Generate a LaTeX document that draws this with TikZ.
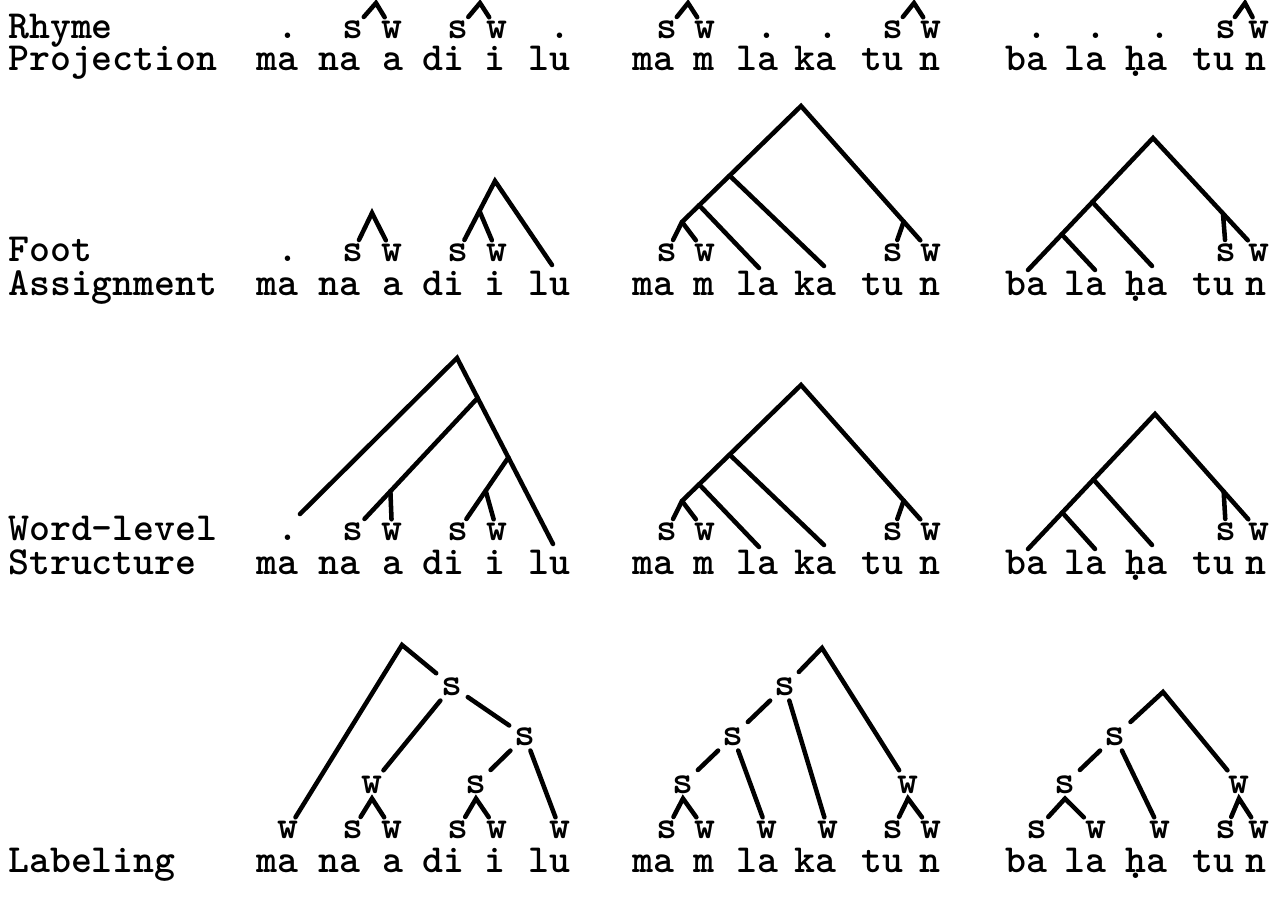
\documentclass[tikz,border=0pt]{standalone}
\usepackage{fontspec}
\newfontfamily\typewr{lmmonolt10-bold.otf}
\newcommand\hdot{\ooalign{h\cr\hidewidth\raisebox{-0.16em}{.}\hidewidth\cr}}
\usetikzlibrary{calc}

\begin{document}
\begin{tikzpicture}[
  x=0.75pt, y=-0.75pt,
  line width=3.4pt, line cap=round,
  every node/.style={font=\typewr\fontsize{29.9}{34}\selectfont, inner sep=0pt},
  lbl/.style={anchor=base west},
  syl/.style={anchor=base},
  lf/.style={anchor=base, outer sep=2.5pt},
  mid/.style={anchor=base, outer sep=4pt}]
\useasboundingbox (0,0) rectangle (1279,897);

% row labels
\node[lbl] (rhyme) at (6,38) {Rhyme};
\node[lbl] (proj) at (6,70) {Projection};
\node[lbl] (foot) at (6,261) {Foot};
\node[lbl] (assign) at (6,295) {Assignment};
\node[lbl] (wordlev) at (6,540) {Word-level};
\node[lbl] (struct) at (6,574) {Structure};
\node[lbl] (labeling) at (6,872) {Labeling};

% Rhyme Projection
\node[syl] (rp-ma) at (277,70) {ma};
\node[syl] (rp-na) at (339,70) {na};
\node[syl] (rp-a) at (393,70) {a};
\node[syl] (rp-di) at (443,70) {di};
\node[syl] (rp-i) at (495,70) {i};
\node[syl] (rp-lu) at (549,70) {lu};
\node[syl] (rp-ma2) at (653,70) {ma};
\node[syl] (rp-m) at (704,70) {m};
\node[syl] (rp-la) at (757,70) {la};
\node[syl] (rp-ka) at (815,70) {ka};
\node[syl] (rp-tu) at (882,70) {tu};
\node[syl] (rp-n) at (930,70) {n};
\node[syl] (rp-ba) at (1026,70) {ba};
\node[syl] (rp-la2) at (1085,70) {la};
\node[syl] (rp-ha) at (1146,70) {\hdot a};
\node[syl] (rp-tu2) at (1213,70) {tu};
\node[syl] (rp-n2) at (1256,70) {n};
\node[lf] (rp1) at (288,38) {.};
\node[lf] (rp2) at (353,38) {s};
\node[lf] (rp3) at (392,38) {w};
\node[lf] (rp4) at (458,38) {s};
\node[lf] (rp5) at (497,38) {w};
\node[lf] (rp6) at (560,38) {.};
\node[lf] (rp7) at (667,38) {s};
\node[lf] (rp8) at (705,38) {w};
\node[lf] (rp9) at (767,38) {.};
\node[lf] (rp10) at (828,38) {.};
\node[lf] (rp11) at (893,38) {s};
\node[lf] (rp12) at (931,38) {w};
\node[lf] (rp13) at (1037,38) {.};
\node[lf] (rp14) at (1096,38) {.};
\node[lf] (rp15) at (1160,38) {.};
\node[lf] (rp16) at (1226,38) {s};
\node[lf] (rp17) at (1259,38) {w};
\coordinate (rp-f1) at (376,3);
\coordinate (rp-f2) at (480,3);
\coordinate (rp-f3) at (688,3);
\coordinate (rp-f4) at (914,3);
\coordinate (rp-f5) at (1245,3);
\draw (rp2) -- (rp-f1) -- (rp3);
\draw (rp4) -- (rp-f2) -- (rp5);
\draw (rp7) -- (rp-f3) -- (rp8);
\draw (rp11) -- (rp-f4) -- (rp12);
\draw (rp16) -- (rp-f5) -- (rp17);

% Foot Assignment
\node[syl] (fa-ma) at (277,295) {ma};
\node[syl] (fa-na) at (339,295) {na};
\node[syl] (fa-a) at (393,295) {a};
\node[syl] (fa-di) at (443,295) {di};
\node[syl] (fa-i) at (495,295) {i};
\node[syl] (fa-lu) at (549,295) {lu};
\node[syl] (fa-ma2) at (653,295) {ma};
\node[syl] (fa-m) at (704,295) {m};
\node[syl] (fa-la) at (757,295) {la};
\node[syl] (fa-ka) at (815,295) {ka};
\node[syl] (fa-tu) at (882,295) {tu};
\node[syl] (fa-n) at (930,295) {n};
\node[syl] (fa-ba) at (1026,295) {ba};
\node[syl] (fa-la2) at (1085,295) {la};
\node[syl] (fa-ha) at (1146,295) {\hdot a};
\node[syl] (fa-tu2) at (1213,295) {tu};
\node[syl] (fa-n2) at (1256,295) {n};
\node[lf] (fa1) at (288,261) {.};
\node[lf] (fa2) at (353,261) {s};
\node[lf] (fa3) at (392,261) {w};
\node[lf] (fa4) at (458,261) {s};
\node[lf] (fa5) at (497,261) {w};
\node[lf] (fa7) at (667,261) {s};
\node[lf] (fa8) at (705,261) {w};
\node[lf] (fa11) at (893,261) {s};
\node[lf] (fa12) at (931,261) {w};
\node[lf] (fa16) at (1226,261) {s};
\node[lf] (fa17) at (1259,261) {w};
\coordinate (fa-f1) at (372,213);
\draw (fa2) -- (fa-f1) -- (fa3);
\coordinate (fa-t1) at (495,181);
\coordinate (fa-e6) at (552,265);
\draw (fa4) -- (fa-t1) -- (fa-e6);
\coordinate (fa-b1) at ($(fa-t1)!0.42!(fa4)$);
\draw (fa-b1) -- (fa5);
\coordinate (fa-t2) at (801,106);
\coordinate (fa-b4) at (682,222);
\coordinate (fa-e10) at (824,266);
\coordinate (fa-e9) at (759,268);
\draw (fa7) -- (fa-b4) -- (fa-t2) -- (fa12);
\draw (fa-b4) -- (fa8);
\coordinate (fa-b2) at ($(fa-t2)!0.6!(fa-b4)$);
\coordinate (fa-b3) at ($(fa-t2)!0.856!(fa-b4)$);
\coordinate (fa-b5) at ($(fa-t2)!0.79!(fa12)$);
\draw (fa-b2) -- (fa-e10);
\draw (fa-b3) -- (fa-e9);
\draw (fa-b5) -- (fa11);
\coordinate (fa-t3) at (1153,138);
\coordinate (fa-e13) at (1028,270);
\coordinate (fa-e14) at (1095,270);
\coordinate (fa-e15) at (1152,266);
\draw (fa-e13) -- (fa-t3) -- (fa17);
\coordinate (fa-b6) at ($(fa-t3)!0.485!(fa-e13)$);
\coordinate (fa-b7) at ($(fa-t3)!0.73!(fa-e13)$);
\coordinate (fa-b8) at ($(fa-t3)!0.66!(fa17)$);
\draw (fa-b6) -- (fa-e15);
\draw (fa-b7) -- (fa-e14);
\draw (fa-b8) -- (fa16);

% Word-level Structure
\node[syl] (ws-ma) at (277,574) {ma};
\node[syl] (ws-na) at (339,574) {na};
\node[syl] (ws-a) at (393,574) {a};
\node[syl] (ws-di) at (443,574) {di};
\node[syl] (ws-i) at (495,574) {i};
\node[syl] (ws-lu) at (549,574) {lu};
\node[syl] (ws-ma2) at (653,574) {ma};
\node[syl] (ws-m) at (704,574) {m};
\node[syl] (ws-la) at (757,574) {la};
\node[syl] (ws-ka) at (815,574) {ka};
\node[syl] (ws-tu) at (882,574) {tu};
\node[syl] (ws-n) at (930,574) {n};
\node[syl] (ws-ba) at (1026,574) {ba};
\node[syl] (ws-la2) at (1085,574) {la};
\node[syl] (ws-ha) at (1146,574) {\hdot a};
\node[syl] (ws-tu2) at (1213,574) {tu};
\node[syl] (ws-n2) at (1256,574) {n};
\node[lf] (ws1) at (288,540) {.};
\node[lf] (ws2) at (353,540) {s};
\node[lf] (ws3) at (392,540) {w};
\node[lf] (ws4) at (458,540) {s};
\node[lf] (ws5) at (497,540) {w};
\node[lf] (ws7) at (667,540) {s};
\node[lf] (ws8) at (705,540) {w};
\node[lf] (ws11) at (893,540) {s};
\node[lf] (ws12) at (931,540) {w};
\node[lf] (ws16) at (1226,540) {s};
\node[lf] (ws17) at (1259,540) {w};
\coordinate (ws-t1) at (457,358);
\coordinate (ws-e1) at (300,514);
\coordinate (ws-e6) at (553,544);
\draw (ws-e1) -- (ws-t1) -- (ws-e6);
\coordinate (ws-b1) at ($(ws-t1)!0.215!(ws-e6)$);
\draw (ws-b1) -- (ws2);
\coordinate (ws-b2) at ($(ws-b1)!0.7!(ws2)$);
\draw (ws-b2) -- (ws3);
\coordinate (ws-b3) at ($(ws-t1)!0.535!(ws-e6)$);
\draw (ws-b3) -- (ws4);
\coordinate (ws-b4) at ($(ws-b3)!0.45!(ws4)$);
\draw (ws-b4) -- (ws5);
\coordinate (ws-t2) at (801,385);
\coordinate (ws-b9) at (682,501);
\coordinate (ws-e10) at (824,545);
\coordinate (ws-e9) at (759,547);
\draw (ws7) -- (ws-b9) -- (ws-t2) -- (ws12);
\draw (ws-b9) -- (ws8);
\coordinate (ws-b7) at ($(ws-t2)!0.6!(ws-b9)$);
\coordinate (ws-b8) at ($(ws-t2)!0.856!(ws-b9)$);
\coordinate (ws-b10) at ($(ws-t2)!0.79!(ws12)$);
\draw (ws-b7) -- (ws-e10);
\draw (ws-b8) -- (ws-e9);
\draw (ws-b10) -- (ws11);
\coordinate (ws-t3) at (1155,414);
\coordinate (ws-e13) at (1028,549);
\coordinate (ws-e14) at (1095,549);
\coordinate (ws-e15) at (1152,545);
\draw (ws-e13) -- (ws-t3) -- (ws17);
\coordinate (ws-b13) at ($(ws-t3)!0.485!(ws-e13)$);
\coordinate (ws-b14) at ($(ws-t3)!0.73!(ws-e13)$);
\coordinate (ws-b15) at ($(ws-t3)!0.66!(ws17)$);
\draw (ws-b13) -- (ws-e15);
\draw (ws-b14) -- (ws-e14);
\draw (ws-b15) -- (ws16);

% Labeling
\node[syl] (lb-ma) at (277,872) {ma};
\node[syl] (lb-na) at (339,872) {na};
\node[syl] (lb-a) at (393,872) {a};
\node[syl] (lb-di) at (443,872) {di};
\node[syl] (lb-i) at (495,872) {i};
\node[syl] (lb-lu) at (549,872) {lu};
\node[syl] (lb-ma2) at (653,872) {ma};
\node[syl] (lb-m) at (704,872) {m};
\node[syl] (lb-la) at (757,872) {la};
\node[syl] (lb-ka) at (815,872) {ka};
\node[syl] (lb-tu) at (882,872) {tu};
\node[syl] (lb-n) at (930,872) {n};
\node[syl] (lb-ba) at (1026,872) {ba};
\node[syl] (lb-la2) at (1085,872) {la};
\node[syl] (lb-ha) at (1146,872) {\hdot a};
\node[syl] (lb-tu2) at (1213,872) {tu};
\node[syl] (lb-n2) at (1256,872) {n};
\node[lf] (lb1) at (288,838) {w};
\node[lf] (lb2) at (353,838) {s};
\node[lf] (lb3) at (392,838) {w};
\node[lf] (lb4) at (458,838) {s};
\node[lf] (lb5) at (497,838) {w};
\node[lf] (lb6) at (560,838) {w};
\node[lf] (lb7) at (667,838) {s};
\node[lf] (lb8) at (705,838) {w};
\node[lf] (lb9) at (767,838) {w};
\node[lf] (lb10) at (828,838) {w};
\node[lf] (lb11) at (893,838) {s};
\node[lf] (lb12) at (931,838) {w};
\node[lf] (lb13) at (1037,838) {s};
\node[lf] (lb14) at (1096,838) {w};
\node[lf] (lb15) at (1160,838) {w};
\node[lf] (lb16) at (1226,838) {s};
\node[lf] (lb17) at (1259,838) {w};
\coordinate (lb-t1) at (402,645);
\node[mid] (lb-sA) at (452,695) {s};
\node[mid] (lb-sC) at (525,745) {s};
\node[mid] (lb-wB) at (372,793) {w};
\node[mid] (lb-sD) at (476,793) {s};
\draw (lb1) -- (lb-t1) -- (lb-sA);
\draw (lb-sA) -- (lb-wB);
\draw (lb-sA) -- (lb-sC);
\draw (lb-sC) -- (lb-sD);
\draw (lb-sC) -- (lb6);
\draw (lb2) -- (lb-wB.south) -- (lb3);
\draw (lb4) -- (lb-sD.south) -- (lb5);
\coordinate (lb-t2) at (822,648);
\node[mid] (lb-sE) at (785,695) {s};
\node[mid] (lb-sF) at (733,745) {s};
\node[mid] (lb-sG) at (683,793) {s};
\node[mid] (lb-wH) at (908,793) {w};
\draw (lb-sE) -- (lb-t2) -- (lb-wH);
\draw (lb-sE) -- (lb-sF);
\draw (lb-sE) -- (lb10);
\draw (lb-sF) -- (lb-sG);
\draw (lb-sF) -- (lb9);
\draw (lb7) -- (lb-sG.south) -- (lb8);
\draw (lb11) -- (lb-wH.south) -- (lb12);
\coordinate (lb-t3) at (1163,692);
\node[mid] (lb-sI) at (1115,745) {s};
\node[mid] (lb-sJ) at (1065,793) {s};
\node[mid] (lb-wK) at (1239,793) {w};
\draw (lb-sI) -- (lb-t3) -- (lb-wK);
\draw (lb-sI) -- (lb-sJ);
\draw (lb-sI) -- (lb15);
\draw (lb13) -- (lb-sJ.south) -- (lb14);
\draw (lb16) -- (lb-wK.south) -- (lb17);
\end{tikzpicture}
\end{document}
